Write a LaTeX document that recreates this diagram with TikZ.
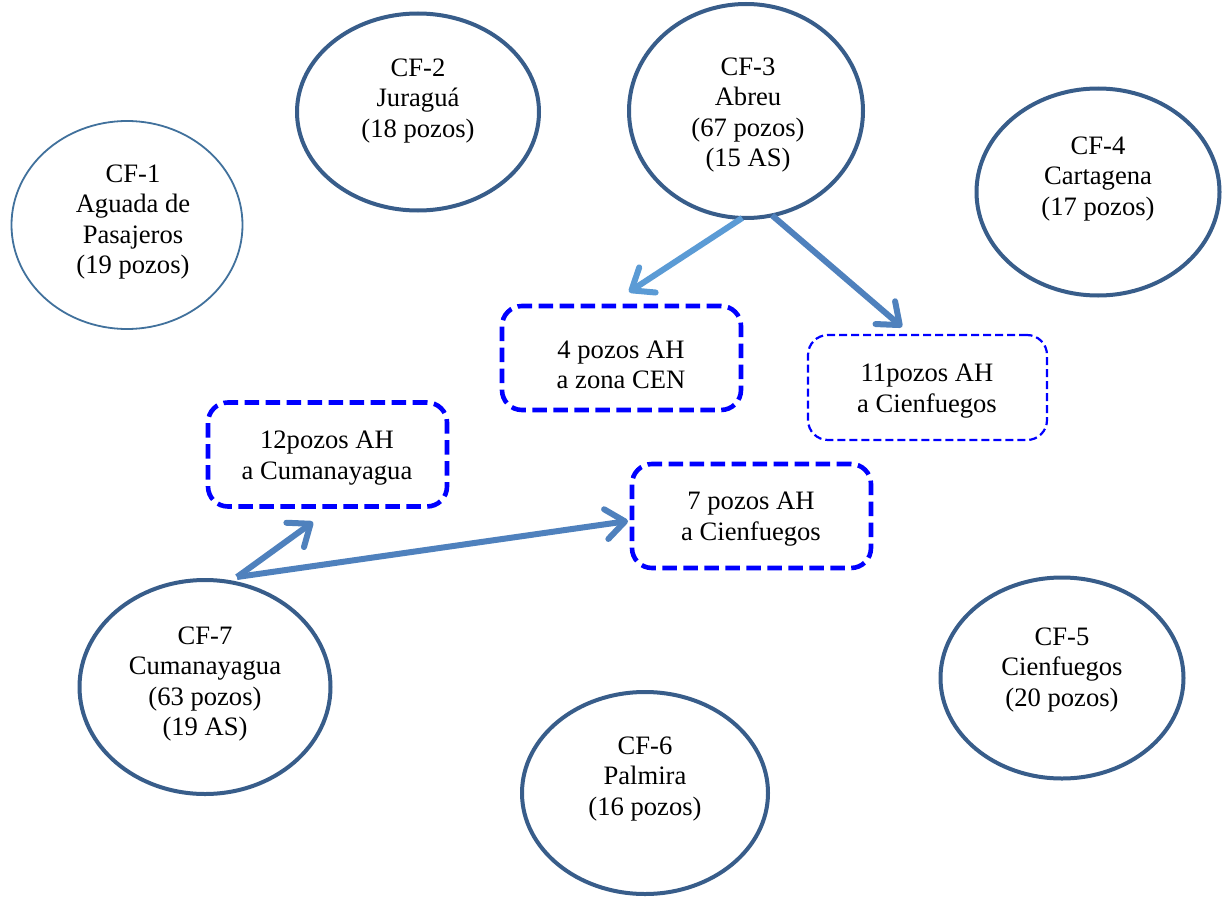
\documentclass[tikz,border=0pt]{standalone}
\usepackage{fontspec}
\setmainfont{Liberation Serif}
\usetikzlibrary{shapes.geometric,arrows.meta}
\definecolor{ellline}{HTML}{385D8A}
\definecolor{ellthin}{HTML}{41719C}
\definecolor{arrlight}{HTML}{5B9BD5}
\definecolor{arrmid}{HTML}{4F81BD}
\definecolor{boxblue}{HTML}{0000FF}
\tikzset{
  cfell/.style={ellipse, draw=ellline, line width=4pt, inner sep=0pt, outer sep=0pt},
  cfellthin/.style={ellipse, draw=ellthin, line width=1.8pt, inner sep=0pt, outer sep=0pt},
  txt/.style={align=center, inner sep=0pt, font=\fontsize{26.6}{30.6}\selectfont},
  ahbox/.style={draw=boxblue, line width=4.6pt, dash pattern=on 14.5pt off 6.5pt, rounded corners=20pt, inner sep=0pt, outer sep=0pt, minimum width=239pt, minimum height=104pt},
  ahboxthin/.style={draw=boxblue, line width=2.2pt, dash pattern=on 8pt off 4pt, rounded corners=20pt, inner sep=0pt, outer sep=0pt, minimum width=239pt, minimum height=105pt},
  conn/.style={line width=6pt, -{Straight Barb[length=19pt,width=30pt,line width=6pt,round]}}
}
\begin{document}
\begin{tikzpicture}[x=1pt,y=-1pt]
\useasboundingbox[fill=white] (0,0) rectangle (1229,899);
% ellipses
\node[cfellthin, minimum width=231pt, minimum height=208pt] (cf1) at (127,225) {};
\node[cfell, minimum width=242pt, minimum height=197pt] (cf2) at (418,112) {};
\node[cfell, minimum width=234pt, minimum height=214pt] (cf3) at (746,111) {};
\node[cfell, minimum width=243pt, minimum height=207pt] (cf4) at (1098,192) {};
\node[cfell, minimum width=243pt, minimum height=201pt] (cf5) at (1062,678) {};
\node[cfell, minimum width=246pt, minimum height=202pt] (cf6) at (645,793) {};
\node[cfell, minimum width=251pt, minimum height=214pt] (cf7) at (205,687) {};
% texts
\node[txt] (cf1t) at (133,222) {CF-1\\Aguada de\\Pasajeros\\(19 pozos)};
\node[txt] (cf2t) at (418,101) {CF-2\\Juraguá\\(18 pozos)};
\node[txt] (cf3t) at (748,115) {CF-3\\Abreu\\(67 pozos)\\(15 AS)};
\node[txt] (cf4t) at (1098,179) {CF-4\\Cartagena\\(17 pozos)};
\node[txt] (cf5t) at (1062,670) {CF-5\\Cienfuegos\\(20 pozos)};
\node[txt] (cf6t) at (645,779) {CF-6\\Palmira\\(16 pozos)};
\node[txt] (cf7t) at (205,684) {CF-7\\Cumanayagua\\(63 pozos)\\(19 AS)};
% boxes
\node[ahbox] (b1) at (621.5,358) {};
\node[txt] (b1t) at (621,365) {4 pozos AH\\a zona CEN};
\node[ahboxthin] (b2) at (927.5,387.5) {};
\node[txt] (b2t) at (927,391) {11pozos AH\\a Cienfuegos};
\node[ahbox] (b3) at (327.5,454.5) {};
\node[txt] (b3t) at (327,458) {12pozos AH\\a Cumanayagua};
\node[ahbox] (b4) at (751.5,516) {};
\node[txt] (b4t) at (751,519) {7 pozos AH\\a Cienfuegos};
% arrow ends
\coordinate (e1) at (629,292);
\coordinate (e2) at (902,327);
\coordinate (e3) at (313,522);
\coordinate (e4) at (628,521);
\coordinate (s3) at (237,577);
% connectors
\draw[conn, draw=arrlight] (cf3.268) -- (e1);
\draw[conn, draw=arrmid] (cf3.284) -- (e2);
\draw[conn, draw=arrmid] (s3) -- (e3);
\draw[conn, draw=arrmid] (s3) -- (e4);
\end{tikzpicture}
\end{document}
